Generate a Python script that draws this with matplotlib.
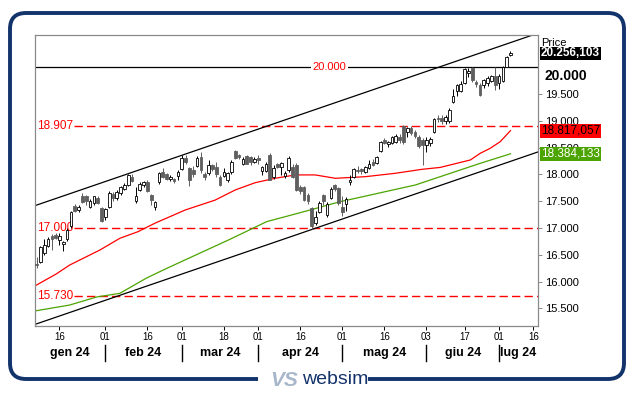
#!/usr/bin/env python3
"""Nasdaq-100 style candlestick chart with channel, MAs and levels (websim look)."""

import matplotlib
matplotlib.use("Agg")
import matplotlib.pyplot as plt
from matplotlib.patches import FancyBboxPatch, Rectangle
import numpy as np

plt.rcParams.update({
    "font.family": ["Liberation Sans", "DejaVu Sans"],
    "font.size": 8,
})

# ---- data ------------------------------------------------------------------
OPEN = [16330, 16370, 16530, 16660, 16850, 16860, 16770, 16700, 16790, 17040,
        17410, 17340, 17600, 17600, 17400, 17460, 17565, 17370, 17210, 17400,
        17640, 17560, 17650, 17730, 17810, 17960, 17500, 17710, 17810, 17860,
        17610, 17400, 17850, 18050, 18000, 17920, 17910, 17970, 18100, 18300,
        18110, 18080, 18150, 18330, 18000, 18020, 18170, 18140, 17950, 17970,
        17900, 18050, 18440, 18360, 18200, 18350, 18320, 18240, 18300, 18070,
        18060, 18360, 17950, 18190, 18130, 17970, 18090, 18140, 18170, 17770,
        17770, 17610, 17370, 17090, 17300, 17610, 17240, 17560, 17800, 17740,
        17390, 17440, 17850, 17960, 18090, 18100, 18050, 18120, 18240, 18210,
        18430, 18640, 18560, 18590, 18600, 18700, 18900, 18790, 18870, 18790,
        18700, 18650, 18540, 18590, 18790, 19060, 19050, 18990, 18990, 19360,
        19550, 19550, 19700, 19890, 19980, 19730, 19660, 19670, 19700, 19750,
        19830, 19700, 19740, 20010, 20230]
HIGH = [16460, 16660, 16790, 16830, 16880, 16900, 16900, 16760, 17000, 17320,
        17450, 17420, 17660, 17620, 17540, 17600, 17600, 17400, 17380, 17690,
        17680, 17700, 17780, 17840, 18000, 18010, 17760, 17860, 17880, 17900,
        17640, 17510, 18040, 18110, 18030, 17990, 17930, 18090, 18360, 18360,
        18140, 18150, 18340, 18420, 18050, 18260, 18200, 18230, 17980, 18110,
        18040, 18260, 18460, 18380, 18320, 18370, 18340, 18320, 18360, 18150,
        18240, 18390, 18180, 18220, 18240, 18060, 18340, 18190, 18220, 17800,
        17790, 17660, 17400, 17320, 17500, 17640, 17480, 17760, 17830, 17770,
        17600, 17580, 17990, 18120, 18150, 18120, 18150, 18260, 18280, 18340,
        18620, 18680, 18620, 18720, 18750, 18760, 18920, 18880, 18900, 18820,
        18740, 18680, 18700, 18690, 19060, 19100, 19110, 19100, 19230, 19600,
        19680, 19750, 19990, 19980, 20000, 19760, 19700, 19780, 19830, 19860,
        20010, 19880, 20030, 20200, 20300]
LOW = [16250, 16340, 16500, 16640, 16590, 16790, 16680, 16570, 16760, 17000,
       17290, 17290, 17460, 17420, 17380, 17430, 17440, 17110, 17150, 17380,
       17500, 17530, 17620, 17700, 17780, 17860, 17460, 17690, 17770, 17670,
       17430, 17330, 17820, 17930, 17900, 17880, 17840, 17900, 18080, 18200,
       17780, 17960, 18130, 18020, 17900, 17990, 18060, 17960, 17780, 17950,
       17860, 18000, 18290, 18280, 18180, 18190, 18170, 18220, 18200, 17990,
       18040, 17890, 17920, 18110, 17990, 17940, 18050, 17930, 17690, 17640,
       17500, 17440, 16980, 17050, 17280, 17430, 17200, 17540, 17690, 17430,
       17230, 17310, 17800, 17930, 18020, 18000, 18020, 18100, 18150, 18190,
       18410, 18560, 18520, 18570, 18580, 18590, 18560, 18700, 18740, 18680,
       18500, 18180, 18420, 18530, 18770, 18970, 18940, 18940, 18950, 19330,
       19470, 19530, 19690, 19810, 19730, 19630, 19460, 19620, 19650, 19720,
       19580, 19600, 19720, 20000, 20200]
CLOSE = [16300, 16650, 16685, 16800, 16790, 16820, 16850, 16745, 16960, 17300,
         17320, 17400, 17480, 17500, 17510, 17590, 17470, 17130, 17350, 17650,
         17560, 17670, 17760, 17810, 17980, 17880, 17600, 17830, 17860, 17690,
         17530, 17490, 18020, 17960, 17920, 17960, 17870, 18050, 18300, 18230,
         17890, 18010, 18300, 18080, 17960, 18170, 18100, 18000, 17810, 18050,
         18020, 18240, 18310, 18320, 18290, 18200, 18230, 18290, 18265, 18140,
         18200, 17900, 18120, 18140, 18210, 18030, 18300, 17960, 17710, 17690,
         17530, 17500, 17040, 17200, 17470, 17500, 17450, 17720, 17720, 17460,
         17290, 17550, 17900, 18100, 18060, 18060, 18130, 18200, 18180, 18320,
         18600, 18580, 18600, 18690, 18710, 18650, 18610, 18860, 18780, 18720,
         18530, 18540, 18640, 18660, 19040, 19030, 19000, 19080, 19210, 19470,
         19660, 19690, 19960, 19930, 19760, 19680, 19480, 19760, 19790, 19830,
         19670, 19840, 20000, 20190, 20256]

# moving averages read at sample points (trading-day index, value)
MA_RED_X = [0, 5.1, 8.7, 16.6, 21.8, 26.5, 31, 38.9, 46.7, 52, 57.2, 62.4,
            67.7, 72.9, 78.2, 86, 93.8, 100.9, 105.6, 113.5, 116.1, 118.7,
            121.3, 124]
MA_RED_Y = [15936, 16140, 16310, 16590, 16808, 16930, 17090, 17336, 17520,
            17710, 17845, 17927, 17990, 17990, 17927, 17957, 18020, 18095,
            18130, 18269, 18394, 18487, 18610, 18817]
MA_GREEN_X = [0, 8.7, 15.7, 21.8, 28.8, 34.1, 50.6, 60.2, 71.6, 79.4, 84.7,
              91.2, 99.1, 105.6, 116.1, 124]
MA_GREEN_Y = [15457, 15563, 15712, 15781, 16067, 16248, 16789, 17118, 17336,
              17491, 17573, 17677, 17802, 17957, 18207, 18384]

# channel lines: value at first and last candle
CHANNEL_X = [0, 124]
CHANNEL_UP = [17427, 20459]
CHANNEL_LOW = [15211, 18243]

LEVEL_SOLID = 20000
LEVELS_DASHED = [18907, 17000, 15730]

LAST_PRICE = 20256.103
LAST_RED = 18817.057
LAST_GREEN = 18384.133

Y_TICKS = [15500, 16000, 16500, 17000, 17500, 18000, 18500, 19000, 19500]
DAY_TICKS = [6, 18, 29, 38, 49, 58, 69, 80, 91, 102, 112, 121, 130]
DAY_LABELS = ["16", "01", "16", "01", "18", "01", "16", "01", "16", "03",
              "17", "01", "16"]
MONTH_EDGES = [18, 38, 58, 80, 102, 121]
MONTHS = ["gen 24", "feb 24", "mar 24", "apr 24", "mag 24", "giu 24", "lug 24"]

RED = "#ff0000"
GREEN = "#4ca400"
NAVY = "#13336b"
DOWN = "#5f5f5f"
SPINE = "#8a8a8a"


def it_num(v, dec=0):
    s = f"{v:,.{dec}f}"
    return s.replace(",", "X").replace(".", ",").replace("X", ".")


W, H = 633, 393
fig = plt.figure(figsize=(W / 100, H / 100), dpi=100)

# outer rounded frame + logo
bg = fig.add_axes([0, 0, 1, 1], zorder=-1)
bg.set_xlim(0, W)
bg.set_ylim(H, 0)
bg.axis("off")
bg.add_patch(FancyBboxPatch((10, 13), 614, 366,
                            boxstyle="round,pad=0,rounding_size=16",
                            lw=2.8, ec=NAVY, fc="white"))
bg.add_patch(Rectangle((258, 372), 110, 16, fc="white", ec="none", zorder=3))
bg.text(284, 380, "VS", fontsize=15, fontstyle="italic", fontweight="bold",
        color="#a9b7cc", ha="center", va="center", zorder=4)
bg.text(302, 380, "websim", fontsize=14, color=NAVY, ha="left", va="center",
        zorder=4)

# main price panel
L, R, T, B = 35, 538, 35, 326
ax = fig.add_axes([L / W, (H - B) / H, (R - L) / W, (B - T) / H])
ax.set_facecolor("white")
ax.set_xlim(-0.41, 131.2)
ax.set_ylim(15171, 20601)
for sp in ax.spines.values():
    sp.set_color(SPINE)
    sp.set_linewidth(0.9)

x = np.arange(len(CLOSE))
o = np.array(OPEN, float)
h = np.array(HIGH, float)
lo = np.array(LOW, float)
c = np.array(CLOSE, float)
up = c >= o

# levels
ax.axhline(LEVEL_SOLID, color="black", lw=0.9, zorder=2)
ax.text(0.586, LEVEL_SOLID, it_num(LEVEL_SOLID), color=RED, fontsize=8,
        ha="center", va="center", transform=ax.get_yaxis_transform(),
        zorder=6, bbox=dict(boxstyle="square,pad=0.15", fc="white", ec="none"))
for lev in LEVELS_DASHED:
    ax.axhline(lev, xmin=0.078, color=RED, lw=1.0, ls=(0, (6, 3)), zorder=2)
    ax.text(0.005, lev, it_num(lev), color=RED, fontsize=8.5, ha="left",
            va="center", transform=ax.get_yaxis_transform(), zorder=2)

# channel
ax.axline((CHANNEL_X[0], CHANNEL_UP[0]), (CHANNEL_X[1], CHANNEL_UP[1]),
          color="black", lw=0.9, zorder=2)
ax.axline((CHANNEL_X[0], CHANNEL_LOW[0]), (CHANNEL_X[1], CHANNEL_LOW[1]),
          color="black", lw=0.9, zorder=2)

# moving averages
ax.plot(MA_RED_X, MA_RED_Y, color=RED, lw=0.9, zorder=2.5)
ax.plot(MA_GREEN_X, MA_GREEN_Y, color=GREEN, lw=0.9, zorder=2.5)

# candles
ax.vlines(x[up], lo[up], h[up], color="black", lw=0.7, zorder=3)
ax.vlines(x[~up], lo[~up], h[~up], color=DOWN, lw=0.7, zorder=3)
body_lo = np.minimum(o, c)
body_h = np.maximum(np.abs(c - o), 8)
ax.bar(x[up], body_h[up], bottom=body_lo[up], width=0.7, color="white",
       edgecolor="black", lw=0.6, zorder=4)
ax.bar(x[~up], body_h[~up], bottom=body_lo[~up], width=0.7, color=DOWN,
       edgecolor=DOWN, lw=0.6, zorder=4)

# right price axis
ax.yaxis.tick_right()
ax.set_yticks(Y_TICKS)
ax.set_yticklabels([it_num(v) for v in Y_TICKS])
ax.tick_params(axis="y", length=3, width=0.7, color=SPINE, pad=2,
               labelsize=8)
ax.annotate("Price", xy=(1, 1), xycoords="axes fraction", xytext=(2, -6),
            textcoords="offset points", fontsize=8, va="center", ha="left",
            annotation_clip=False)
ax.annotate(it_num(LEVEL_SOLID), xy=(1, LEVEL_SOLID),
            xycoords=("axes fraction", "data"), xytext=(5, -6),
            textcoords="offset points", fontsize=10, fontweight="bold",
            va="center", ha="left", annotation_clip=False)
for val, fc, tc, bold in ((LAST_PRICE, "black", "white", True),
                          (LAST_RED, RED, "black", False),
                          (LAST_GREEN, GREEN, "white", False)):
    ax.annotate(it_num(val, 3), xy=(1, val), xycoords=("axes fraction", "data"),
                xytext=(2, 0), textcoords="offset points", fontsize=8.5,
                fontweight="bold" if bold else "normal", color=tc,
                va="center", ha="left", annotation_clip=False, zorder=7,
                bbox=dict(boxstyle="square,pad=0.08", fc=fc, ec="none"))

# date axis
ax.set_xticks(DAY_TICKS)
ax.set_xticklabels(DAY_LABELS)
ax.tick_params(axis="x", length=3, width=0.7, color="black", pad=1.5,
               labelsize=7)
xt = ax.get_xaxis_transform()
hpx = B - T
for e in MONTH_EDGES:
    ax.plot([e, e], [-19 / hpx, -35 / hpx], color="black", lw=1.0,
            transform=xt, clip_on=False)
edges = [-0.41] + MONTH_EDGES + [131.2]
for i, m in enumerate(MONTHS):
    ax.text((edges[i] + edges[i + 1]) / 2, -27 / hpx, m, transform=xt,
            ha="center", va="center", fontsize=9, fontweight="bold")

fig.savefig("out.png", dpi=100, facecolor="white")
